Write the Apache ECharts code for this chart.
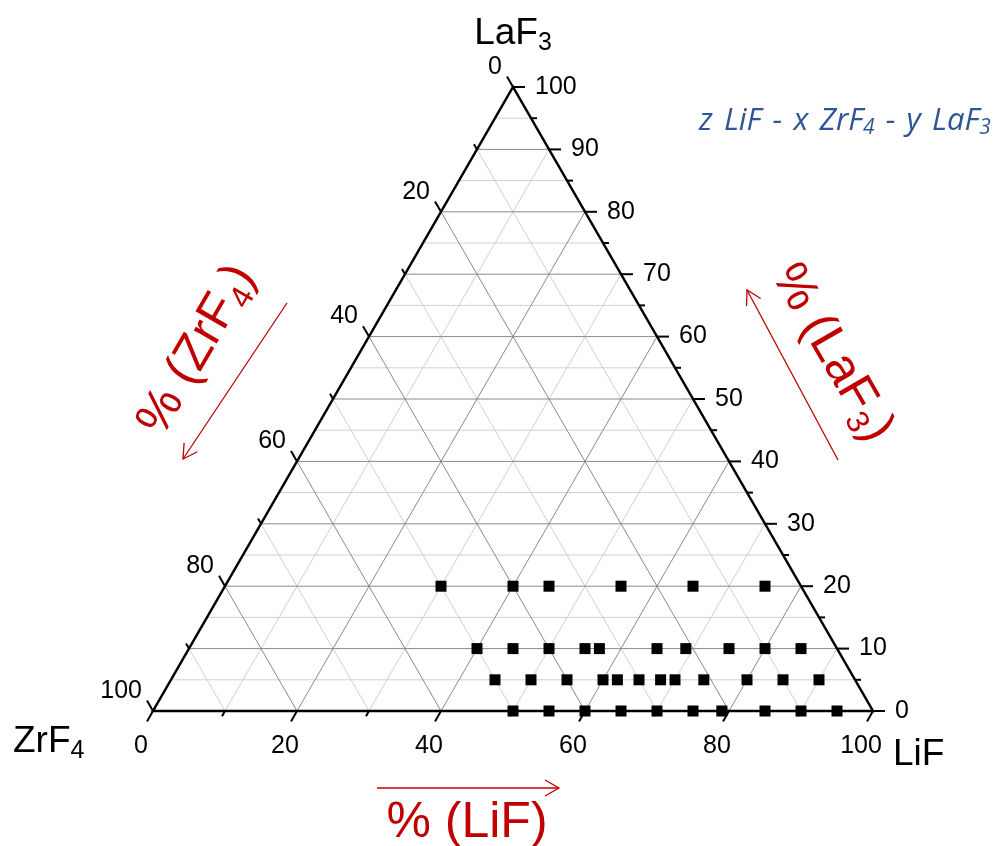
<!DOCTYPE html>
<html>
<head>
<meta charset="utf-8">
<script src="https://cdn.jsdelivr.net/npm/echarts@6/dist/echarts.min.js"></script>
<style>html,body{margin:0;padding:0;background:#fff;}#main{width:994px;height:846px;}</style>
</head>
<body>
<div id="main"></div>
<script>
// ---------- data (ternary compositions, %) ----------
const laf3Levels = [20, 10, 5, 0];
const lifAtLaf3_20 = [30, 40, 45, 55, 65, 75];
const lifAtLaf3_10 = [40, 45, 50, 55, 57, 65, 69, 75, 80, 85];
const lifAtLaf3_5  = [45, 50, 55, 60, 62, 65, 68, 70, 74, 80, 85, 90];
const lifAtLaf3_0  = [50, 55, 60, 65, 70, 75, 79, 85, 90, 95];

// ---------- tick labels ----------
const lifTickLabels  = [0, 20, 40, 60, 80, 100];
const zrf4TickLabels = [0, 20, 40, 60, 80, 100];
const laf3TickLabels = [0, 10, 20, 30, 40, 50, 60, 70, 80, 90, 100];

// ---------- helpers ----------
const S = Math.sqrt(3) / 2;
function toXY(lif, laf3) { return [lif + laf3 / 2, laf3 * S]; }
const FONT = '"Liberation Sans", Arial, sans-serif';
const RED = '#c00000';
const BLUE = '#2f5597';

function buildPoints() {
  const rows = [lifAtLaf3_20, lifAtLaf3_10, lifAtLaf3_5, lifAtLaf3_0];
  const pts = [];
  rows.forEach((row, i) => row.forEach(lif => pts.push(toXY(lif, laf3Levels[i]))));
  return pts;
}

function renderFrame(params, api) {
  if (params.dataIndex !== 0) return;
  const ch = [];
  const P = (lif, laf) => api.coord(toXY(lif, laf));
  const seg = (a, b, stroke, lw) => ch.push({type: 'line', silent: true,
    shape: {x1: a[0], y1: a[1], x2: b[0], y2: b[1]}, style: {stroke: stroke, lineWidth: lw, fill: null}});
  const MAJ = '#8a8a8a', MIN = '#d0d0d0';
  for (let pass = 0; pass < 2; pass++) {
    for (let v = 10; v < 100; v += 10) {
      const major = v % 20 === 0;
      if ((pass === 1) !== major) continue;
      seg(P(v, 0), P(v, 100 - v), major ? MAJ : MIN, 1);
      seg(P(100 - v, 0), P(0, 100 - v), major ? MAJ : MIN, 1);
    }
    for (let v = 5; v < 100; v += 5) {
      const major = v % 10 === 0;
      if ((pass === 1) !== major) continue;
      seg(P(0, v), P(100 - v, v), major ? MAJ : MIN, 1);
    }
  }
  // ticks
  for (let v = 0; v <= 100; v += 10) {
    const len = v % 20 === 0 ? 12 : 6;
    const b = P(v, 0); seg(b, [b[0] - 0.5 * len, b[1] + S * len], '#000', 2);
    const l = P(0, 100 - v); seg(l, [l[0] - 0.5 * len, l[1] - S * len], '#000', 2);
  }
  for (let v = 0; v <= 100; v += 5) {
    const len = v % 10 === 0 ? 12 : 6;
    const r = P(100 - v, v); seg(r, [r[0] + len, r[1]], '#000', 2);
  }
  // outline
  ch.push({type: 'polygon', silent: true, shape: {points: [P(0, 0), P(100, 0), P(0, 100)]},
    style: {stroke: '#000', lineWidth: 2.5, fill: null}});
  // tick labels
  const lab = (t, x, y, align) => ch.push({type: 'text', silent: true, style: {
    text: String(t), x: x, y: y, align: align, verticalAlign: 'middle',
    textAlign: align, textVerticalAlign: 'middle', font: '25px ' + FONT, fill: '#000'}});
  lifTickLabels.forEach(v => { const p = P(v, 0); lab(v, p[0] - 12, p[1] + 35, 'center'); });
  zrf4TickLabels.forEach(v => { const p = P(0, 100 - v); lab(v, p[0] - 11, p[1] - 20, 'right'); });
  laf3TickLabels.forEach(v => { const p = P(100 - v, v); lab(v, p[0] + 22, p[1], 'left'); });
  return {type: 'group', children: ch};
}

function arrowEls(x1, y1, x2, y2) {
  const dx = x2 - x1, dy = y2 - y1, L = Math.hypot(dx, dy), ux = dx / L, uy = dy / L;
  const hl = 14, hw = 8;
  return [
    {type: 'line', shape: {x1: x1, y1: y1, x2: x2, y2: y2}, style: {stroke: RED, lineWidth: 1.3}},
    {type: 'polyline', shape: {points: [[x2 - ux * hl - uy * hw, y2 - uy * hl + ux * hw], [x2, y2],
      [x2 - ux * hl + uy * hw, y2 - uy * hl - ux * hw]]}, style: {stroke: RED, lineWidth: 1.3, fill: null}}
  ];
}

function richTitle(fill, m, s) {
  return {
    m: {fontSize: m, lineHeight: Math.round(m * 1.2), fontFamily: FONT, fill: fill},
    s: {fontSize: s, lineHeight: Math.round(s * 0.8), verticalAlign: 'bottom', fontFamily: FONT, fill: fill}
  };
}

const SP = ' \u200A';
const chart = echarts.init(document.getElementById('main'));
chart.setOption({
  animation: false,
  backgroundColor: '#fff',
  grid: {left: 153, top: 87, width: 720, height: 624, containLabel: false},
  xAxis: {type: 'value', min: 0, max: 100, show: false},
  yAxis: {type: 'value', min: 0, max: 100 * S, show: false},
  series: [
    {type: 'custom', renderItem: renderFrame, data: [[0, 0]], clip: false, silent: true, z: 1},
    {type: 'scatter', symbol: 'rect', symbolSize: 11, itemStyle: {color: '#000', opacity: 1}, data: buildPoints(), z: 5, silent: true}
  ],
  graphic: [
    {type: 'text', x: 513, y: 12, style: {text: '{m|LaF}{s|3}', align: 'center', verticalAlign: 'top', rich: richTitle('#000', 37, 25)}},
    {type: 'text', x: 13, y: 720, style: {text: '{m|ZrF}{s|4}', align: 'left', verticalAlign: 'top', rich: richTitle('#000', 37, 25)}},
    {type: 'text', x: 893, y: 733, style: {text: '{m|LiF}', align: 'left', verticalAlign: 'top', rich: richTitle('#000', 37, 25)}},
    {type: 'text', x: 467, y: 823, style: {text: '{m|% (LiF)}', align: 'center', verticalAlign: 'middle', rich: richTitle(RED, 50, 32)}},
    {type: 'text', x: 197, y: 350, rotation: Math.PI / 3, style: {text: '{m|% (ZrF}{s|4}{m|)}', align: 'center', verticalAlign: 'middle', rich: richTitle(RED, 50, 32)}},
    {type: 'text', x: 832, y: 353, rotation: -Math.PI / 3, style: {text: '{m|% (LaF}{s|3}{m|)}', align: 'center', verticalAlign: 'middle', rich: richTitle(RED, 50, 32)}},
    {type: 'text', x: 699, y: 103, style: {text: '{m|z' + SP + 'LiF' + SP + '-' + SP + 'x' + SP + 'ZrF}{s|4}{m|' + SP + '-' + SP + 'y' + SP + 'LaF}{s|3}', align: 'left', verticalAlign: 'top',
      rich: {
        m: {fontSize: 31, lineHeight: 36, fontFamily: '"Open Sans", sans-serif', fontStyle: 'italic', fill: BLUE},
        s: {fontSize: 21, lineHeight: 16, verticalAlign: 'bottom', fontFamily: '"Open Sans", sans-serif', fontStyle: 'italic', fill: BLUE}
      }}}
  ].concat(arrowEls(377, 788, 559, 788), arrowEls(287, 303, 183, 459), arrowEls(838, 460, 747, 290))
});
</script>
</body>
</html>
